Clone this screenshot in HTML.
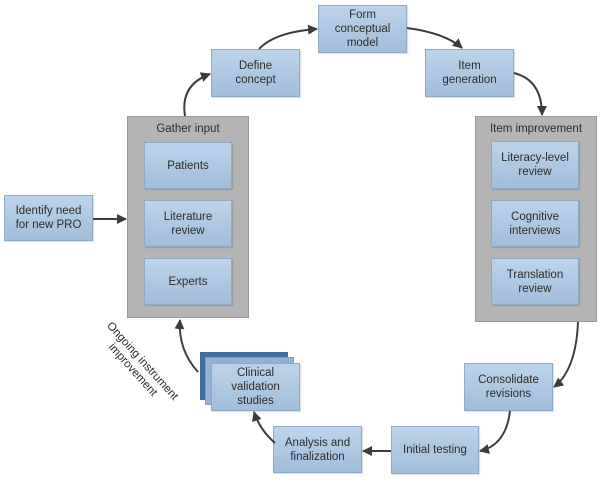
<!DOCTYPE html>
<html><head><meta charset="utf-8"><style>
html,body{margin:0;padding:0;background:#fff;width:603px;height:481px;overflow:hidden;position:relative;font-family:"Liberation Sans",Arial,sans-serif;color:#2b2b2b}
.b{position:absolute;box-sizing:border-box;background:linear-gradient(#bcd3ea,#a2bedb);border:1px solid #8eaac8;display:flex;align-items:center;justify-content:center;text-align:center;font-size:11.5px;line-height:14px;box-shadow:1px 1px 1px rgba(0,0,0,.15)}
.g{position:absolute;box-sizing:border-box;background:#b4b4b4;border:1px solid #9a9a9a;text-align:center;font-size:11.5px;padding-top:6px}
svg{position:absolute;left:0;top:0}
</style></head><body>
<div class="b" style="left:4px;top:195px;width:89px;height:46px">Identify need<br>for new PRO</div>
<div class="g" style="left:127px;top:116px;width:122px;height:202px">Gather input</div>
<div class="b" style="left:144px;top:142px;width:88px;height:47px">Patients</div>
<div class="b" style="left:144px;top:200px;width:88px;height:47px">Literature<br>review</div>
<div class="b" style="left:144px;top:258px;width:88px;height:47px">Experts</div>
<div class="b" style="left:211px;top:49px;width:89px;height:48px">Define<br>concept</div>
<div class="b" style="left:318px;top:5px;width:89px;height:48px">Form<br>conceptual<br>model</div>
<div class="b" style="left:425px;top:49px;width:89px;height:48px">Item<br>generation</div>
<div class="g" style="left:475px;top:116px;width:122px;height:206px">Item improvement</div>
<div class="b" style="left:491px;top:141px;width:88px;height:48px">Literacy-level<br>review</div>
<div class="b" style="left:491px;top:200px;width:88px;height:47px">Cognitive<br>interviews</div>
<div class="b" style="left:491px;top:258px;width:88px;height:47px">Translation<br>review</div>
<div class="b" style="left:464px;top:363px;width:89px;height:48px">Consolidate<br>revisions</div>
<div class="b" style="left:391px;top:426px;width:88px;height:48px">Initial testing</div>
<div class="b" style="left:273px;top:426px;width:89px;height:47px">Analysis and<br>finalization</div>
<div style="position:absolute;left:200px;top:352px;width:88px;height:48px;background:#3f6d9d"></div>
<div style="position:absolute;left:205px;top:357px;width:89px;height:48px;background:#93b3d5;border:1px solid #7e9fc4;box-sizing:border-box"></div>
<div class="b" style="left:211px;top:363px;width:89px;height:48px">Clinical<br>validation<br>studies</div>
<div style="position:absolute;left:82px;top:353px;width:110px;text-align:center;font-size:11.5px;line-height:13px;transform:rotate(48deg);transform-origin:center">Ongoing instrument<br>improvement</div>
<svg width="603" height="481" viewBox="0 0 603 481">
<defs><marker id="a" markerWidth="10" markerHeight="10" refX="9" refY="5" orient="auto" markerUnits="userSpaceOnUse"><path d="M0,0 L10,5 L0,10 Z" fill="#3c3c3c"/></marker></defs>
<g fill="none" stroke="#3c3c3c" stroke-width="2" marker-end="url(#a)">
<path d="M93,219 L126,219"/>
<path d="M185,116 Q180,85 210,74"/>
<path d="M259,49 Q275,32 317,29"/>
<path d="M407,28 Q445,33 462,48"/>
<path d="M514,73 Q542,80 542,115"/>
<path d="M578,322 Q576,370 554,387"/>
<path d="M510,411 Q506,445 480,451"/>
<path d="M391,451 L363,451"/>
<path d="M275,443 Q260,430 254,412"/>
<path d="M198,372 Q178,350 180,320"/>
</g></svg>
</body></html>
